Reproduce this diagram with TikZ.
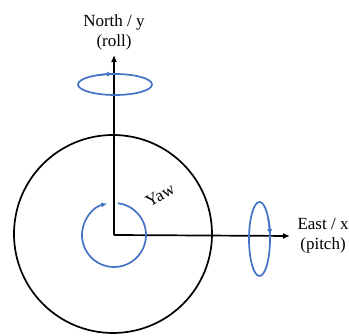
\documentclass[tikz,border=0pt]{standalone}
\usepackage{fontspec}
\setmainfont{Liberation Serif}
\usetikzlibrary{arrows.meta,positioning}
\definecolor{spinblue}{RGB}{68,114,196}
\begin{document}
\begin{tikzpicture}[x=1pt, y=1pt, every node/.style={font=\fontsize{17}{20}\selectfont},
  axis/.style={black, line width=1.7pt, -{Latex[length=7pt,width=6pt]}},
  spin/.style={spinblue, line width=1.7pt},
  spintip/.style={spinblue, line width=1.7pt, -{Latex[length=6pt,width=5pt]}}]
  \useasboundingbox (-114,-101) rectangle (235,235);
  \coordinate (O) at (0,0);
  \coordinate (yend) at (0,180);
  \coordinate (xend) at (176,-1);
  \coordinate (rollc) at (1,150.5);
  \coordinate (pitchc) at (145.5,-4);
  \draw[black, line width=1.7pt] (-1,1) circle (99);
  \draw[axis] (O) -- (yend);
  \draw[axis] (O) -- (xend);
  \node[above=1pt of yend, align=center] (north) {North / y\\(roll)};
  \node[right=4pt of xend, align=center] (east) {East / x\\(pitch)};
  \draw[spintip] ([shift={(83:32)}]O) arc[start angle=83, end angle=-258, radius=32];
  \node[rotate=30] (yaw) at (46,40) {Yaw};
  \draw[spin] (rollc) ellipse[x radius=37, y radius=10.5];
  \draw[spintip] ([shift={(120:37 and 10.5)}]rollc) arc[start angle=120, end angle=93, x radius=37, y radius=10.5];
  \draw[spin] (pitchc) ellipse[x radius=10.5, y radius=37];
  \draw[spintip] ([shift={(35:10.5 and 37)}]pitchc) arc[start angle=35, end angle=6, x radius=10.5, y radius=37];
\end{tikzpicture}
\end{document}
